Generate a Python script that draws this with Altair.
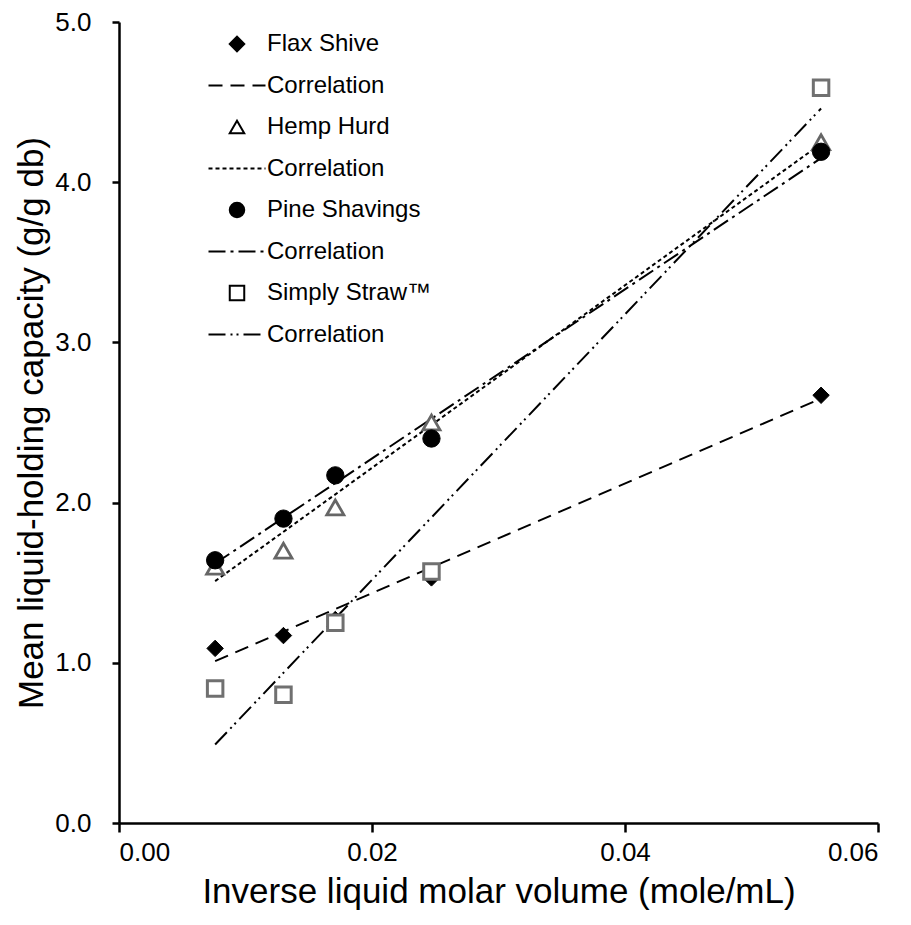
import altair as alt
import pandas as pd

# ---------------- data ----------------
x_vals = [0.0076, 0.0130, 0.0171, 0.0247, 0.0555]
flax = [1.09, 1.17, 1.27, 1.53, 2.67]
hemp = [1.60, 1.70, 1.97, 2.50, 4.25]
pine = [1.64, 1.90, 2.17, 2.40, 4.19]
straw = [0.84, 0.80, 1.25, 1.57, 4.59]

fit_x = [0.0076, 0.0555]
flax_fit = [1.01, 2.65]
hemp_fit = [1.51, 4.24]
pine_fit = [1.62, 4.15]
straw_fit = [0.49, 4.46]

series_names = ["Flax Shive", "Hemp Hurd", "Pine Shavings", "Simply Straw™"]
legend_keys = ["Flax Shive", "Correlation|1", "Hemp Hurd", "Correlation|2",
               "Pine Shavings", "Correlation|3", "Simply Straw™", "Correlation|4"]

x_ticks = [0.0, 0.02, 0.04, 0.06]
y_ticks = [0, 1, 2, 3, 4, 5]

FONT = "Liberation Sans"

# ---------------- styles ----------------
dashes = {
    "Flax Shive": [14, 8],
    "Hemp Hurd": [4, 3],
    "Pine Shavings": [17, 5, 3, 5],
    "Simply Straw™": [17, 5, 2, 4, 2, 5],
}
LEG_SIZE = 210
R = (LEG_SIZE ** 0.5) / 2.0
HALF = 28.5


def dash_path(pattern):
    parts = []
    pos = -HALF
    i = 0
    while pos < HALF:
        seg = pattern[i % len(pattern)]
        end = min(pos + seg, HALF)
        if i % 2 == 0:
            parts.append("M%.3f,0L%.3f,0" % (pos / R, end / R))
        pos += seg
        i += 1
    return "".join(parts)


legend_shapes = [
    "diamond", dash_path(dashes["Flax Shive"]),
    "triangle-up", dash_path(dashes["Hemp Hurd"]),
    "circle", dash_path(dashes["Pine Shavings"]),
    "square", dash_path(dashes["Simply Straw™"]),
]
legend_fills = ["black", "transparent", "white", "transparent",
                "black", "transparent", "white", "transparent"]
legend_strokes = ["black"] * len(legend_keys)

x_scale = alt.Scale(domain=[0, 0.06], nice=False, zero=False)
y_scale = alt.Scale(domain=[0, 5], nice=False)

x_axis = alt.Axis(values=x_ticks, format=".2f", title="Inverse liquid molar volume (mole/mL)",
                  grid=False, tickSize=9, labelPadding=7, titleY=68, titleBaseline="middle")
y_axis = alt.Axis(values=y_ticks, format=".1f", title="Mean liquid-holding capacity (g/g db)",
                  grid=False, tickSize=7, labelPadding=21, titleX=-88, titleBaseline="middle")

points_df = pd.DataFrame({
    "x": x_vals * 4,
    "y": flax + hemp + pine + straw,
    "series": sum([[n] * len(x_vals) for n in series_names], []),
})
fit_df = pd.DataFrame({
    "x": fit_x * 4,
    "y": flax_fit + hemp_fit + pine_fit + straw_fit,
    "series": sum([[n] * len(fit_x) for n in series_names], []),
})

layers = []
# correlation lines
for n in series_names:
    layers.append(
        alt.Chart(fit_df).transform_filter(alt.datum.series == n)
        .mark_line(color="black", strokeWidth=2, strokeDash=dashes[n])
        .encode(x=alt.X("x:Q", scale=x_scale, axis=x_axis),
                y=alt.Y("y:Q", scale=y_scale, axis=y_axis))
    )

point_styles = {
    "Flax Shive": dict(shape="diamond", fill="black", stroke="black", strokeWidth=1, size=270),
    "Hemp Hurd": dict(shape="triangle-up", fill="white", stroke="#666666", strokeWidth=2.8, size=290),
    "Pine Shavings": dict(shape="circle", fill="black", stroke="black", strokeWidth=1, size=300),
    "Simply Straw™": dict(shape="square", fill="white", stroke="#707070", strokeWidth=3, size=240),
}
for n in series_names:
    layers.append(
        alt.Chart(points_df).transform_filter(alt.datum.series == n)
        .mark_point(opacity=1, filled=False, **point_styles[n])
        .encode(x=alt.X("x:Q", scale=x_scale, axis=x_axis),
                y=alt.Y("y:Q", scale=y_scale, axis=y_axis))
    )

# legend carrier (draws nothing, only supplies the legend)
leg_df = pd.DataFrame({"key": legend_keys})
leg = alt.Legend(
    title=None, orient="none", legendX=106, legendY=10,
    labelExpr="split(datum.label, '|')[0]",
    labelFont=FONT, labelFontSize=24, labelColor="black", labelOffset=18, labelLimit=0,
    symbolSize=LEG_SIZE, symbolStrokeColor="black", symbolStrokeWidth=2,
    symbolOpacity=1, rowPadding=17.5, padding=0,
)
legend_layer = (
    alt.Chart(leg_df).transform_filter("false")
    .mark_point(opacity=1, strokeWidth=2)
    .encode(
        x=alt.value(0), y=alt.value(0),
        shape=alt.Shape("key:N", scale=alt.Scale(domain=legend_keys, range=legend_shapes), legend=leg),
        fill=alt.Fill("key:N", scale=alt.Scale(domain=legend_keys, range=legend_fills), legend=leg),
        stroke=alt.Stroke("key:N", scale=alt.Scale(domain=legend_keys, range=legend_strokes), legend=leg),
    )
)
layers.append(legend_layer)

chart = (
    alt.layer(*layers)
    .properties(width=759, height=801,
                padding={"left": 119, "top": 22, "right": 33, "bottom": 102},
                autosize=alt.AutoSizeParams(type="none"),
                background="white")
    .configure_view(stroke=None)
    .configure_axis(
        domainColor="black", domainWidth=2.5, tickColor="black", tickWidth=2.5,
        labelFont=FONT, labelFontSize=26, labelColor="black",
        titleFont=FONT, titleFontSize=35, titleFontWeight="normal", titleColor="black",
    )
)

chart.save("out.html", embed_options={"renderer": "svg", "actions": False})
